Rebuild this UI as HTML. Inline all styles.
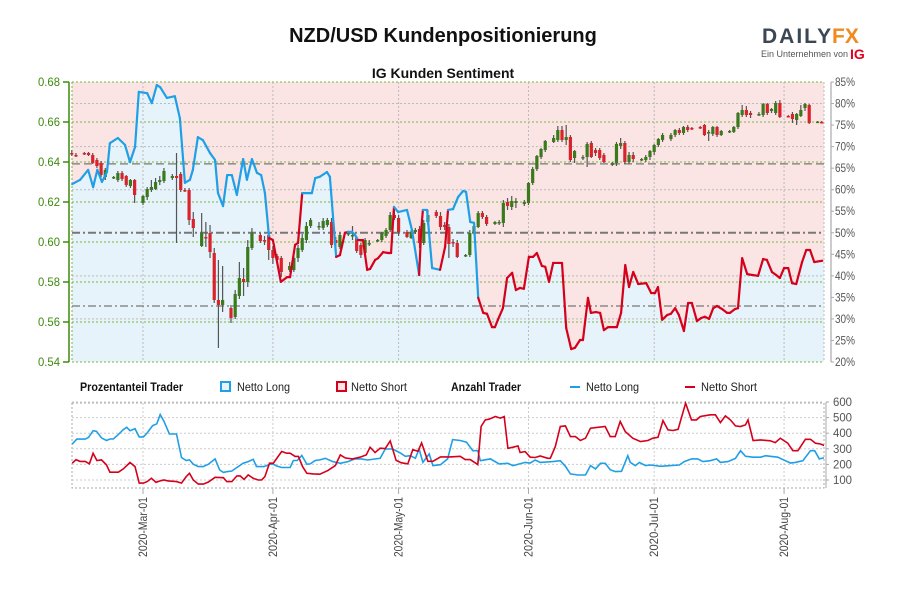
<!DOCTYPE html>
<html><head><meta charset="utf-8">
<style>
body{margin:0;background:#fff;width:900px;height:600px;overflow:hidden;font-family:"Liberation Sans",sans-serif}
svg text{font-family:"Liberation Sans Narrow","Liberation Sans",sans-serif}
</style></head>
<body>
<svg id="chart" width="900" height="600" xmlns="http://www.w3.org/2000/svg">
<text x="443" y="42" text-anchor="middle" style="font-family:'Liberation Sans',sans-serif;font-weight:bold;font-size:20px" fill="#111">NZD/USD Kundenpositionierung</text>
<text x="443" y="78" text-anchor="middle" style="font-family:'Liberation Sans',sans-serif;font-weight:bold;font-size:14px" fill="#111">IG Kunden Sentiment</text>
<g>
<text x="762" y="43" style="font-family:'Liberation Sans',sans-serif;font-weight:bold;font-size:21px;letter-spacing:2px" fill="#3d4653">DAILY</text>
<text x="832" y="43" style="font-family:'Liberation Sans',sans-serif;font-weight:bold;font-size:21px" fill="#f08a1c">FX</text>
<text x="761" y="57" style="font-family:'Liberation Sans',sans-serif;font-size:9px" fill="#555">Ein Unternehmen von</text>
<text x="850" y="59" style="font-family:'Liberation Sans',sans-serif;font-weight:bold;font-size:14px" fill="#e2001a">IG</text>
</g>
<g id="main"></g>
<g id="lower"></g>
<g id="legend">
<text x="80" y="391" style="font-weight:bold;font-size:12px" fill="#111" textLength="103" lengthAdjust="spacingAndGlyphs">Prozentanteil Trader</text>
<rect x="221" y="382" width="9" height="9" fill="#e6f3fb" stroke="#1f9fe5" stroke-width="2"/>
<text x="237" y="391" style="font-size:12px" fill="#222" textLength="53" lengthAdjust="spacingAndGlyphs">Netto Long</text>
<rect x="337" y="382" width="9" height="9" fill="#fbe4e4" stroke="#d5001b" stroke-width="2"/>
<text x="351" y="391" style="font-size:12px" fill="#222" textLength="56" lengthAdjust="spacingAndGlyphs">Netto Short</text>
<text x="451" y="391" style="font-weight:bold;font-size:12px" fill="#111" textLength="70" lengthAdjust="spacingAndGlyphs">Anzahl Trader</text>
<line x1="570" y1="387" x2="580" y2="387" stroke="#1f9fe5" stroke-width="2"/>
<text x="586" y="391" style="font-size:12px" fill="#222" textLength="53" lengthAdjust="spacingAndGlyphs">Netto Long</text>
<line x1="685" y1="387" x2="695" y2="387" stroke="#d5001b" stroke-width="2"/>
<text x="701" y="391" style="font-size:12px" fill="#222" textLength="56" lengthAdjust="spacingAndGlyphs">Netto Short</text>
</g>
</svg>
<script>
// ---- data ----
const openP=[6445,6435,6445,6445,6435,6410,6395,6325,6320,6310,6345,6330,6280,6310,6195,6225,6260,6265,6300,6305,6320,6330,6340,6260,6260,6115,5980,6025,6045,5945,5710,5685,5670,5625,5730,5815,5800,5970,6035,6010,6035,5960,5930,5920,5860,5860,5920,5960,6010,6080,6075,6070,6085,6100,6010,5975,6040,6030,6020,5985,5945,5990,6005,6010,6030,6060,6135,6120,6050,6020,6050,6065,5995,6100,6150,6130,6085,6075,6000,5995,5930,5935,6045,6075,6145,6125,6090,6095,6095,6200,6175,6195,6190,6195,6295,6365,6425,6460,6500,6510,6560,6510,6525,6420,6420,6425,6495,6460,6460,6435,6385,6395,6480,6495,6400,6435,6410,6410,6425,6450,6485,6510,6515,6535,6560,6545,6575,6570,6575,6585,6545,6540,6575,6535,6550,6550,6575,6635,6660,6645,6635,6635,6690,6655,6645,6695,6630,6640,6610,6630,6670,6685,6600,6600];
const closeP=[6440,6430,6440,6435,6395,6380,6335,6360,6325,6345,6315,6285,6310,6235,6230,6265,6275,6300,6310,6355,6330,6320,6260,6258,6110,6070,6045,6020,5950,5710,5685,5710,5620,5740,5820,5800,5975,6045,6005,6005,5960,5920,5910,5850,5880,5920,5970,6020,6080,6110,6080,6105,6110,5985,5995,6035,6045,6035,5955,5935,6010,5995,6010,6045,6060,6135,6120,6050,6025,6050,6060,5995,6095,6135,6130,6075,6075,5990,5995,5925,5935,6045,6080,6145,6125,6090,6100,6100,6195,6180,6205,6205,6200,6295,6365,6430,6465,6505,6520,6560,6510,6525,6410,6455,6425,6490,6425,6445,6420,6400,6395,6490,6495,6400,6435,6415,6415,6425,6455,6485,6515,6535,6535,6560,6545,6575,6560,6568,6570,6535,6550,6575,6535,6555,6555,6575,6645,6660,6635,6635,6640,6690,6645,6665,6695,6625,6628,6615,6640,6660,6690,6595,6602,6598];
const highP=[6460,6445,6450,6450,6445,6420,6405,6370,6330,6355,6355,6335,6315,6315,6235,6275,6310,6320,6330,6370,6340,6445,6350,6270,6270,6150,6145,6100,6085,5970,5910,5880,5685,5760,5900,5870,6010,6070,6045,6030,6050,5980,5940,5930,5900,5935,5985,6040,6100,6120,6100,6120,6120,6120,6025,6045,6050,6080,6030,5995,6020,6010,6015,6050,6070,6150,6170,6135,6060,6060,6070,6080,6110,6160,6160,6150,6100,6090,6015,6010,5940,6060,6100,6155,6155,6135,6105,6110,6210,6220,6230,6220,6210,6300,6375,6435,6470,6510,6535,6580,6580,6585,6535,6460,6435,6500,6505,6470,6470,6445,6400,6500,6520,6505,6450,6450,6420,6435,6460,6490,6520,6545,6545,6565,6570,6580,6585,6575,6580,6590,6560,6580,6580,6560,6560,6580,6650,6685,6680,6655,6650,6695,6695,6670,6705,6710,6635,6650,6645,6685,6695,6690,6605,6605];
const lowP=[6430,6425,6435,6430,6390,6370,6325,6310,6315,6300,6305,6275,6270,6195,6185,6210,6250,6260,6285,6295,6310,5995,6250,6250,6085,6025,5975,5975,5920,5695,5470,5650,5595,5615,5715,5730,5775,5960,5995,5985,5910,5890,5890,5825,5850,5850,5900,5950,5995,6070,6060,6060,6075,5970,5970,5965,6030,6010,5945,5920,5935,5980,6000,6000,6020,6050,6110,6030,6020,6015,6040,5970,5985,6085,6120,6060,6060,5920,5975,5920,5925,5925,6035,6070,6115,6080,6085,6085,6075,6160,6160,6170,6180,6185,6285,6355,6415,6450,6495,6500,6500,6485,6400,6395,6410,6375,6420,6430,6410,6395,6380,6380,6465,6390,6390,6400,6405,6400,6410,6435,6475,6500,6505,6525,6535,6535,6550,6560,6565,6530,6505,6530,6525,6530,6545,6545,6565,6625,6625,6620,6630,6625,6635,6645,6635,6620,6625,6595,6585,6625,6655,6590,6595,6595];

// sentiment (% net long), time in days since 2020-03-01
const sentT=[-16.9,-15.0,-13.1,-11.9,-10.9,-9.8,-8.6,-7.9,-6.0,-4.3,-3.1,-1.9,-1.0,1.0,2.1,3.3,4.1,5.7,7.6,8.8,10.0,11.2,11.9,13.1,14.3,16.0,17.2,17.9,19.1,20.1,21.2,22.4,23.9,24.8,26.0,27.2,28.2,29.1,30.1,31.0,32.9,34.4,35.1,36.3,37.0,38.0,40.3,41.1,42.2,43.9,44.6,46.1,47.0,48.2,48.9,49.9,50.6,51.3,52.5,53.5,54.2,55.4,56.1,57.3,58.5,59.2,59.9,60.9,63.0,64.2,65.9,66.4,66.8,67.8,69.0,70.9,72.1,72.8,74.0,75.2,76.4,77.1,78.1,79.0,80.0,81.2,82.1,83.3,84.0,84.7,85.9,86.9,88.1,89.0,90.0,90.9,92.1,93.1,94.0,95.2,96.0,96.9,97.9,100.0,101.0,102.2,103.1,104.3,105.0,106.2,106.9,108.1,109.1,110.0,111.0,113.1,114.1,115.1,116.0,117.0,118.2,120.1,121.3,122.2,122.9,123.9,125.1,126.0,127.0,127.9,129.1,130.1,131.0,132.2,133.2,134.1,135.1,136.1,137.0,138.2,139.4,140.1,141.3,142.0,143.0,144.2,145.4,146.8,148.0,148.9,150.1,151.1,152.0,153.0,154.0,154.9,155.9,157.3,158.3,159.2,160.2,162.1];
const sentPct=[61.3,62.3,64.6,60.6,64.6,61.8,64.1,70.8,72.0,70.4,66.4,69.9,82.7,82.4,80.1,84.3,83.8,81.3,81.7,76.6,61.6,62.3,64.6,72.2,71.5,68.5,66.9,59.2,56.2,63.4,63.4,58.8,67.1,62.3,67.1,63.9,63.4,59.2,48.8,48.3,38.6,39.7,39.7,47.2,47.6,59.2,59.2,62.7,63.0,64.1,63.0,44.4,44.8,50.0,50.2,50.2,49.5,48.3,48.3,41.4,41.6,43.7,44.1,45.5,45.3,45.3,56.0,54.8,55.3,50.6,40.2,50.6,55.3,55.3,41.8,41.4,46.7,55.3,55.5,58.3,59.7,59.5,52.5,52.3,34.9,31.4,31.2,28.1,28.1,29.8,32.5,39.5,40.7,36.7,37.2,37.0,44.4,44.4,45.3,42.3,42.1,38.6,43.0,43.0,27.9,23.0,23.3,25.1,25.1,34.9,31.4,31.6,31.4,27.4,28.1,28.1,31.4,42.5,37.4,40.9,38.1,38.3,36.0,36.0,37.4,29.8,30.9,31.2,32.5,30.9,27.2,33.7,33.7,29.5,30.2,30.5,30.0,32.5,33.0,32.3,31.4,31.4,32.3,32.5,44.1,40.4,40.2,40.0,43.9,43.7,40.9,40.2,39.5,41.8,41.8,38.3,38.1,43.2,46.0,46.0,43.2,43.5];
const sentSide=("LLLLLLLLLLLLLLLLLLLLLLLLLLLLLLLLLLLLLL"+"SSSSSSS"+"LLLLLL"+"SSS"+"LLL"+"SSSSSSSSS"+"LLLL"+"SS"+"LLL"+"SS"+"LLLLLLL").split("");

// trader counts
const longT=[-16.9,-15.8,-13.8,-13.0,-11.9,-11.1,-9.9,-8.7,-7.9,-7.1,-5.9,-4.7,-3.9,-3.1,-1.9,-0.9,0.1,1.0,2.3,3.3,4.1,5.0,6.3,8.0,9.2,10.3,11.1,12.0,13.2,14.4,15.6,17.2,18.3,19.2,20.0,21.2,22.4,23.9,25.1,26.3,27.1,28.9,30.3,31.1,31.9,33.1,35.1,35.9,36.8,37.9,39.1,39.9,41.1,42.2,43.5,45.3,47.1,48.9,50.6,52.1,53.6,56.6,57.8,59.6,61.4,62.6,63.8,65.0,65.9,66.8,68.3,69.2,71.0,72.7,73.9,75.7,77.2,78.7,79.9,80.5,82.9,85.0,87.1,88.3,91.2,92.4,93.6,94.8,97.8,99.6,100.8,102.0,103.8,105.6,106.8,108.0,109.2,110.3,111.5,112.7,114.2,115.7,116.3,117.5,118.5,119.9,121.1,123.5,125.9,128.0,129.2,130.9,132.4,133.6,135.4,136.9,137.8,139.6,141.4,142.6,143.8,145.6,147.4,148.6,149.7,151.5,153.3,154.5,155.7,157.5,159.3,160.3,161.4,162.3,163.5];
const longCnt=[330,362,362,373,416,412,370,353,363,363,391,423,438,416,429,376,376,402,449,460,520,477,395,395,244,225,229,201,186,186,201,235,164,149,153,158,180,208,218,233,186,186,201,201,190,180,180,225,225,257,201,203,225,229,239,218,207,218,235,235,228,239,299,299,273,252,256,239,299,213,267,192,198,235,359,353,342,288,288,224,235,203,207,192,213,209,228,213,218,224,188,139,132,132,192,171,207,207,166,154,156,256,213,192,213,192,196,188,192,196,218,235,235,218,224,235,213,218,239,288,252,246,246,256,252,246,224,209,213,224,288,288,235,241,241];
const shortT=[-16.9,-16.0,-15.0,-13.8,-12.8,-11.9,-11.0,-9.9,-8.7,-7.9,-5.9,-4.7,-3.1,-1.9,-0.9,0.1,1.0,2.0,3.1,4.1,5.0,6.0,8.0,9.2,10.3,11.1,12.0,13.2,14.4,15.6,17.2,19.2,20.0,21.2,22.4,23.2,24.1,25.1,26.3,27.5,28.3,29.1,30.2,31.1,33.1,34.3,35.1,36.3,37.1,38.1,39.1,40.7,42.2,44.1,45.9,47.1,48.3,50.0,51.8,53.3,54.2,55.4,56.6,57.8,59.0,60.4,61.6,63.2,64.4,65.6,66.5,68.0,69.2,71.0,73.3,75.7,76.9,78.1,79.9,80.7,81.7,82.6,84.1,85.3,86.2,87.1,88.3,89.5,90.0,91.2,92.4,93.6,94.8,96.6,97.2,98.4,99.6,100.8,102.0,103.2,104.4,105.6,106.8,108.6,110.3,111.5,112.7,113.9,115.1,116.9,118.7,120.5,121.7,122.9,124.1,125.3,126.5,127.7,129.5,130.9,132.1,133.0,135.4,136.6,137.8,139.0,140.2,141.4,142.6,143.8,144.4,145.6,147.4,149.7,150.9,152.1,153.9,155.1,156.3,158.1,159.3,160.5,161.7,162.9];
const shortCnt=[208,230,219,219,204,272,225,229,197,150,150,171,212,186,80,80,90,111,85,94,100,94,90,80,122,143,100,74,74,87,117,115,90,90,126,126,104,133,111,100,100,122,208,208,283,272,272,251,251,186,143,139,137,160,192,261,241,235,246,261,310,276,304,301,350,226,211,203,295,284,338,220,220,248,248,252,231,231,199,443,486,490,507,496,507,303,310,318,276,282,246,244,254,239,239,314,443,447,378,378,353,368,432,438,443,378,378,475,410,368,346,353,368,374,481,421,417,425,592,485,485,507,518,518,468,511,485,447,443,453,485,353,357,351,340,368,336,288,288,361,361,336,331,318];

const priceTicks=[0.54,0.56,0.58,0.60,0.62,0.64,0.66,0.68];
const pctTicks=[20,25,30,35,40,45,50,55,60,65,70,75,80,85];
const cntTicks=[100,200,300,400,500,600];
const monthLabels=["2020-Mar-01","2020-Apr-01","2020-May-01","2020-Jun-01","2020-Jul-01","2020-Aug-01"];
const monthDays=[0,31,61,92,122,153];

// ---- scales ----
const X0=72,X1=824,T0=82,B0=362,LT=403,LB=488;
const xOf=d=>143+d*4.19;
const yP=p=>T0+(0.68-p)*2000;
const yPct=v=>T0+(85-v)*(280/65);
const yCnt=v=>480-(v-100)*0.156;
const NS="http://www.w3.org/2000/svg";
function mk(parent,tag,attrs){const e=document.createElementNS(NS,tag);for(const k in attrs)e.setAttribute(k,attrs[k]);parent.appendChild(e);return e;}
const main=document.getElementById('main'),lower=document.getElementById('lower');

const candleDays=[];
for(let d=-17;d<=162;d++){if(((d%7)+7)%7!==6)candleDays.push(d);}

let bg=mk(main,'rect',{x:X0,y:T0,width:X1-X0,height:B0-T0,fill:'#fbe4e4'});


let pts=sentT.map((t,i)=>xOf(t).toFixed(1)+','+yPct(sentPct[i]).toFixed(1));
let area=mk(main,'polygon',{points:X0+','+B0+' '+X0+','+yPct(sentPct[0]).toFixed(1)+' '+pts.join(' ')+' '+X1+','+yPct(sentPct[sentPct.length-1]).toFixed(1)+' '+X1+','+B0,fill:'#e6f3fb'});



pctTicks.forEach(v=>{if(v%10===0&&v!==50&&v!==20){let g=mk(main,'line',{x1:X0,x2:X1,y1:yPct(v),y2:yPct(v),stroke:'#bbb','stroke-dasharray':'2,2'});

}});
priceTicks.forEach(p=>{let g=mk(main,'line',{x1:X0,x2:X1,y1:yP(p),y2:yP(p),stroke:'#7cb342','stroke-dasharray':'2,2'});

});
monthDays.forEach(d=>{let g=mk(main,'line',{x1:xOf(d),x2:xOf(d),y1:T0,y2:B0,stroke:'#bbb','stroke-dasharray':'2,2'});

});
let bl=mk(main,'line',{x1:X0,x2:X0,y1:T0,y2:B0,stroke:'#7cb342','stroke-dasharray':'2,2'});


let br=mk(main,'line',{x1:X1,x2:X1,y1:T0,y2:B0,stroke:'#bbb','stroke-dasharray':'2,2'});


let r1=mk(main,'line',{x1:X0,x2:X1,y1:yPct(66),y2:yPct(66),stroke:'#777','stroke-width':1.2,'stroke-dasharray':'8,4'});


let r2=mk(main,'line',{x1:X0,x2:X1,y1:yPct(50),y2:yPct(50),stroke:'#777','stroke-width':2,'stroke-dasharray':'8,3,2,3'});


let r3=mk(main,'line',{x1:X0,x2:X1,y1:yPct(33),y2:yPct(33),stroke:'#777','stroke-width':1.2,'stroke-dasharray':'8,3,2,3'});



openP.forEach((o,i)=>{
  const d=candleDays[i]; if(d===undefined)return;
  const x=xOf(d),c=closeP[i],h=highP[i],l=lowP[i];
  const up=c>=o;
  const g=mk(main,'g',{});
  
  
  mk(g,'line',{x1:x,x2:x,y1:yP(h/1e4),y2:yP(l/1e4),stroke:'#555','stroke-width':1.2});
  const yt=yP(Math.max(o,c)/1e4),yb=yP(Math.min(o,c)/1e4);
  mk(g,'rect',{x:x-1.6,y:yt,width:3.2,height:Math.max(1.5,yb-yt),fill:up?'#3a7a1c':'#d8232a'});
});

for(let i=0;i<sentT.length-1;i++){
  const s=mk(main,'line',{x1:xOf(sentT[i]),y1:yPct(sentPct[i]),x2:xOf(sentT[i+1]),y2:yPct(sentPct[i+1]),stroke:sentSide[i]==='L'?'#1f9fe5':'#d5001b','stroke-width':2.2,'stroke-linecap':'round'});
  
  
}

const la=mk(main,'line',{x1:69,x2:69,y1:T0,y2:B0,stroke:'#3f8a0f','stroke-width':1.5});


priceTicks.forEach(p=>{mk(main,'line',{x1:63,x2:69,y1:yP(p),y2:yP(p),stroke:'#3f8a0f','stroke-width':1.5});
const t=mk(main,'text',{x:60,y:yP(p)+4,'text-anchor':'end','font-size':'12',fill:'#3f8a0f',textLength:'22',lengthAdjust:'spacingAndGlyphs'});t.textContent=p.toFixed(2);

});
const ra=mk(main,'line',{x1:831,x2:831,y1:T0,y2:B0,stroke:'#aaa','stroke-width':1.2});


pctTicks.forEach(v=>{mk(main,'line',{x1:831,x2:834,y1:yPct(v),y2:yPct(v),stroke:'#aaa'});
const t=mk(main,'text',{x:835,y:yPct(v)+4,'font-size':'12',fill:'#555',textLength:'20',lengthAdjust:'spacingAndGlyphs'});t.textContent=v+'%';

});

const lb=mk(lower,'rect',{x:X0,y:LT,width:X1-X0,height:LB-LT,fill:'none',stroke:'#aaa','stroke-dasharray':'2,2'});


cntTicks.forEach(v=>{const g=mk(lower,'line',{x1:X0,x2:X1,y1:yCnt(v),y2:yCnt(v),stroke:'#ccc','stroke-dasharray':'2,2'});


mk(lower,'line',{x1:826,x2:829,y1:yCnt(v),y2:yCnt(v),stroke:'#aaa'});
const t=mk(lower,'text',{x:833,y:yCnt(v)+4,'font-size':'12',fill:'#555',textLength:'19',lengthAdjust:'spacingAndGlyphs'});t.textContent=v;

});
const ca=mk(lower,'line',{x1:826,x2:826,y1:LT-1,y2:LB,stroke:'#aaa'});


monthDays.forEach((d,i)=>{const g=mk(lower,'line',{x1:xOf(d),x2:xOf(d),y1:LT,y2:LB,stroke:'#ccc','stroke-dasharray':'2,2'});


mk(lower,'line',{x1:xOf(d),x2:xOf(d),y1:LB,y2:LB+6,stroke:'#aaa'});
const t=mk(lower,'text',{x:0,y:0,'text-anchor':'end','font-size':'12',fill:'#444',textLength:'60',lengthAdjust:'spacingAndGlyphs',transform:'translate('+(xOf(d)+4)+',497) rotate(-90)'});t.textContent=monthLabels[i];

});
const clip=mk(lower,'clipPath',{id:'lc'});mk(clip,'rect',{x:X0,y:LT-5,width:X1-X0,height:LB-LT+5});
const lp=mk(lower,'polyline',{points:longT.map((t,i)=>xOf(t).toFixed(1)+','+yCnt(longCnt[i]).toFixed(1)).join(' '),fill:'none',stroke:'#1f9fe5','stroke-width':1.6,'clip-path':'url(#lc)'});


const sp=mk(lower,'polyline',{points:shortT.map((t,i)=>xOf(t).toFixed(1)+','+yCnt(shortCnt[i]).toFixed(1)).join(' '),fill:'none',stroke:'#d5001b','stroke-width':1.6,'clip-path':'url(#lc)'});


</script>
</body></html>
